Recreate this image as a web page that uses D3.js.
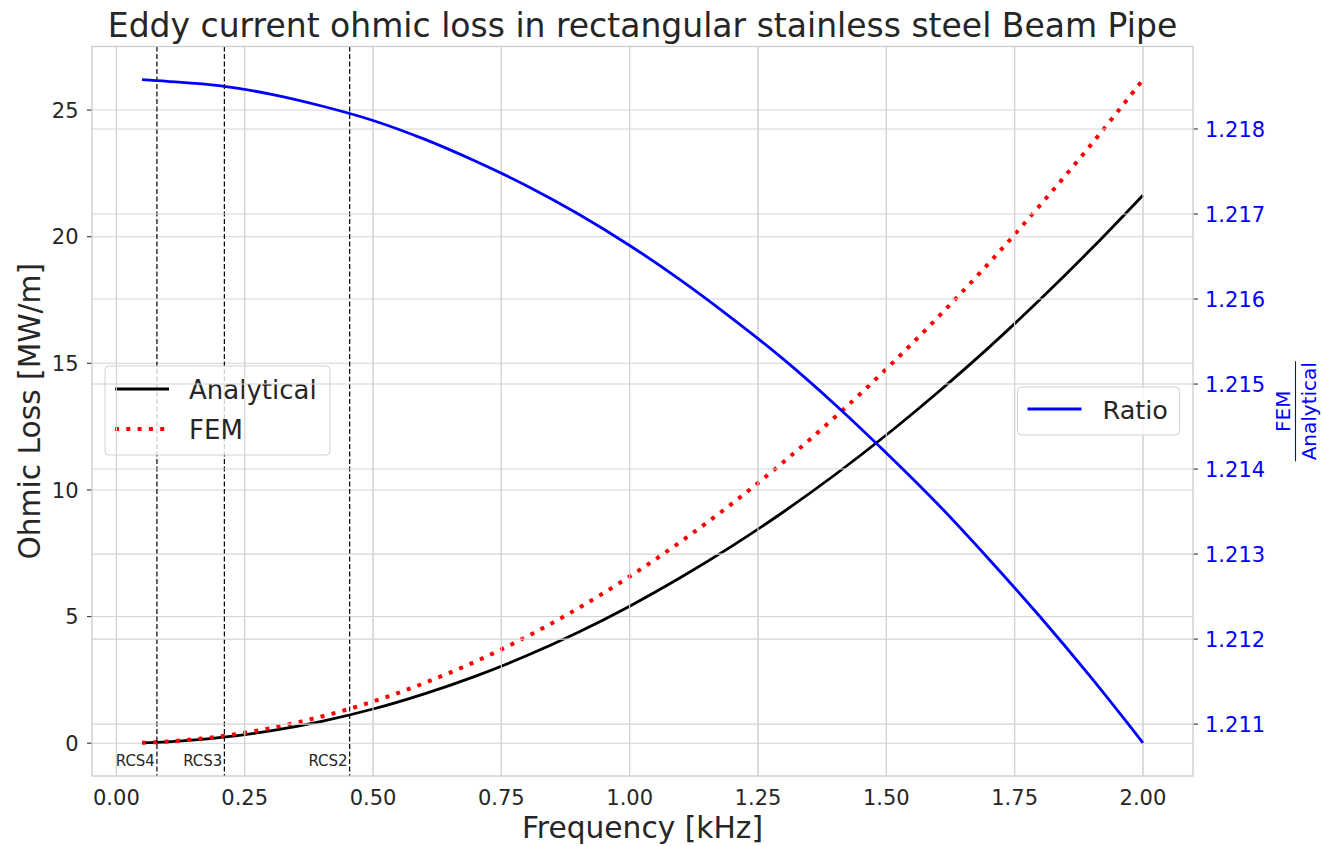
<!DOCTYPE html>
<html>
<head>
<meta charset="utf-8">
<script src="https://cdn.jsdelivr.net/npm/d3@7"></script>
<style>
  html, body { margin: 0; padding: 0; background: #ffffff; }
  svg { display: block; font-family: "DejaVu Sans", sans-serif; }
</style>
</head>
<body>
<svg id="chart" width="1322" height="846"></svg>
<script>
// ---------------- data ----------------
const freq = [0.05, 0.10, 0.20, 0.30, 0.40, 0.50, 0.60, 0.70, 0.80, 0.90, 1.00,
              1.10, 1.20, 1.30, 1.40, 1.50, 1.60, 1.70, 1.80, 1.90, 2.00];
const analytical = [0.014, 0.054, 0.216, 0.487, 0.866, 1.35, 1.95, 2.65, 3.46, 4.38, 5.41,
                    6.55, 7.79, 9.14, 10.60, 12.17, 13.85, 15.63, 17.53, 19.53, 21.64];
const fem = [0.017, 0.066, 0.263, 0.593, 1.055, 1.644, 2.375, 3.227, 4.212, 5.331, 6.582,
             7.966, 9.471, 11.108, 12.877, 14.777, 16.808, 18.958, 21.251, 23.661, 26.201];
const ratio = [1.21858, 1.21856, 1.21851, 1.21841, 1.21827, 1.21810, 1.21788, 1.21762, 1.21733, 1.21700, 1.21663,
               1.21622, 1.21577, 1.21529, 1.21476, 1.21419, 1.21359, 1.21294, 1.21226, 1.21154, 1.21078];
const rcsFreq = [0.079, 0.2104, 0.4545];
const rcsLabels = ["RCS4", "RCS3", "RCS2"];
const xTicks = [0, 0.25, 0.5, 0.75, 1.0, 1.25, 1.5, 1.75, 2.0];
const yLeftTicks = [0, 5, 10, 15, 20, 25];
const yRightTicks = [1.211, 1.212, 1.213, 1.214, 1.215, 1.216, 1.217, 1.218];
const titleText = "Eddy current ohmic loss in rectangular stainless steel Beam Pipe";
const xLabel = "Frequency [kHz]";
const yLabel = "Ohmic Loss [MW/m]";

// ---------------- layout ----------------
const L = 92, R = 1193, T = 46.5, B = 776;
const svg = d3.select("#chart");
const dark = "#262626", gridC = "#d3d3d3", blue = "#0000ff";

function padded(ext) { const m = (ext[1] - ext[0]) * 0.05; return [ext[0] - m, ext[1] + m]; }

const x = d3.scaleLinear().domain(padded(d3.extent(freq))).range([L, R]);
const yL = d3.scaleLinear().domain(padded(d3.extent(analytical.concat(fem)))).range([B, T]);
const yR = d3.scaleLinear().domain(padded(d3.extent(ratio))).range([B, T]);

// ---------- axis 1 ----------
const g1 = svg.append("g");
const gridG1 = g1.append("g").attr("stroke", gridC).attr("stroke-width", 1.1);
gridG1.selectAll(".vx").data(xTicks).join("line")
  .attr("x1", d => x(d)).attr("x2", d => x(d)).attr("y1", T).attr("y2", B);
gridG1.selectAll(".hy").data(yLeftTicks).join("line")
  .attr("x1", L).attr("x2", R).attr("y1", d => yL(d)).attr("y2", d => yL(d));

const pts = freq.map((f, i) => ({f, a: analytical[i], m: fem[i], r: ratio[i]}));
const lineA = d3.line().x(d => x(d.f)).y(d => yL(d.a)).curve(d3.curveCatmullRom);
const lineM = d3.line().x(d => x(d.f)).y(d => yL(d.m)).curve(d3.curveCatmullRom);
const lineR = d3.line().x(d => x(d.f)).y(d => yR(d.r)).curve(d3.curveCatmullRom);

g1.append("path").datum(pts).attr("d", lineA)
  .attr("fill", "none").attr("stroke", "#000").attr("stroke-width", 2.8);
g1.append("path").datum(pts).attr("d", lineM)
  .attr("fill", "none").attr("stroke", "#ff0000").attr("stroke-width", 4)
  .attr("stroke-dasharray", "4,7.3");

// RCS dashed lines
g1.selectAll(".rcs").data(rcsFreq).join("line")
  .attr("x1", d => x(d)).attr("x2", d => x(d)).attr("y1", T).attr("y2", B)
  .attr("stroke", "#000").attr("stroke-width", 1.2).attr("stroke-dasharray", "5,2.5");
g1.selectAll(".rcst").data(rcsFreq).join("text")
  .attr("x", d => x(d) - 2).attr("y", yL(-0.9))
  .attr("text-anchor", "end").attr("font-size", 15).attr("fill", dark)
  .text((d, i) => rcsLabels[i]);

// left ticks
g1.selectAll(".lt").data(yLeftTicks).join("line")
  .attr("x1", L - 5).attr("x2", L).attr("y1", d => yL(d)).attr("y2", d => yL(d))
  .attr("stroke", "#444").attr("stroke-width", 1.2);
g1.selectAll(".ltl").data(yLeftTicks).join("text")
  .attr("x", 78.5).attr("y", d => yL(d) + 7.6)
  .attr("text-anchor", "end").attr("font-size", 21).attr("fill", dark)
  .text(d => d3.format("d")(d));
g1.selectAll(".xtl").data(xTicks).join("text")
  .attr("x", d => x(d)).attr("y", 805)
  .attr("text-anchor", "middle").attr("font-size", 21).attr("fill", dark)
  .text(d => d3.format(".2f")(d));

// legend 1
const lg1 = g1.append("g");
lg1.append("rect").attr("x", 105).attr("y", 366).attr("width", 225).attr("height", 89)
  .attr("rx", 4).attr("fill", "#fff").attr("fill-opacity", 0.8)
  .attr("stroke", "#d0d0d0").attr("stroke-width", 1);
lg1.append("line").attr("x1", 115).attr("x2", 169).attr("y1", 389).attr("y2", 389)
  .attr("stroke", "#000").attr("stroke-width", 2.8);
lg1.append("line").attr("x1", 115).attr("x2", 169).attr("y1", 429).attr("y2", 429)
  .attr("stroke", "#ff0000").attr("stroke-width", 4).attr("stroke-dasharray", "4,7.3");
lg1.append("text").attr("x", 189).attr("y", 399).attr("font-size", 26).attr("fill", dark).text("Analytical");
lg1.append("text").attr("x", 189).attr("y", 439).attr("font-size", 26).attr("fill", dark).text("FEM");

// ---------- axis 2 (twin) ----------
const g2 = svg.append("g");
const gridG2 = g2.append("g").attr("stroke", gridC).attr("stroke-width", 1.1);
gridG2.selectAll(".vx").data(xTicks).join("line")
  .attr("x1", d => x(d)).attr("x2", d => x(d)).attr("y1", T).attr("y2", B);
gridG2.selectAll(".hy").data(yRightTicks).join("line")
  .attr("x1", L).attr("x2", R).attr("y1", d => yR(d)).attr("y2", d => yR(d));

g2.append("path").datum(pts).attr("d", lineR)
  .attr("fill", "none").attr("stroke", blue).attr("stroke-width", 2.8);

g2.selectAll(".rt").data(yRightTicks).join("line")
  .attr("x1", R).attr("x2", R + 5).attr("y1", d => yR(d)).attr("y2", d => yR(d))
  .attr("stroke", "#444").attr("stroke-width", 1.2);
g2.selectAll(".rtl").data(yRightTicks).join("text")
  .attr("x", 1205).attr("y", d => yR(d) + 7.6)
  .attr("text-anchor", "start").attr("font-size", 21).attr("fill", blue)
  .text(d => d3.format(".3f")(d));

// spines
g2.append("rect").attr("x", L).attr("y", T).attr("width", R - L).attr("height", B - T)
  .attr("fill", "none").attr("stroke", "#cccccc").attr("stroke-width", 1.3);

// legend 2
const lg2 = g2.append("g");
lg2.append("rect").attr("x", 1017.5).attr("y", 387).attr("width", 162).attr("height", 48)
  .attr("rx", 4).attr("fill", "#fff").attr("fill-opacity", 0.8)
  .attr("stroke", "#d0d0d0").attr("stroke-width", 1);
lg2.append("line").attr("x1", 1027.5).attr("x2", 1081.5).attr("y1", 409).attr("y2", 409)
  .attr("stroke", blue).attr("stroke-width", 2.8);
lg2.append("text").attr("x", 1102.5).attr("y", 418.5).attr("font-size", 25.5).attr("fill", dark).text("Ratio");

// right axis label (fraction)
const frac = svg.append("g").attr("transform", `translate(1295.5,${(T + B) / 2}) rotate(-90)`);
frac.append("text").attr("x", 0).attr("y", -5.5).attr("text-anchor", "middle")
  .attr("font-size", 20).attr("fill", blue).text("FEM");
frac.append("line").attr("x1", -50).attr("x2", 50).attr("y1", 0).attr("y2", 0)
  .attr("stroke", blue).attr("stroke-width", 1.1);
frac.append("text").attr("x", 0).attr("y", 20.5).attr("text-anchor", "middle")
  .attr("font-size", 20).attr("fill", blue).text("Analytical");

// titles / labels
svg.append("text").attr("x", (L + R) / 2).attr("y", 37).attr("text-anchor", "middle")
  .attr("font-size", 33).attr("fill", dark).text(titleText);
svg.append("text").attr("x", (L + R) / 2).attr("y", 838).attr("text-anchor", "middle")
  .attr("font-size", 29.7).attr("fill", dark).text(xLabel);
svg.append("text").attr("transform", `translate(40,${(T + B) / 2}) rotate(-90)`)
  .attr("text-anchor", "middle").attr("font-size", 29.7).attr("fill", dark).text(yLabel);
</script>
</body>
</html>
